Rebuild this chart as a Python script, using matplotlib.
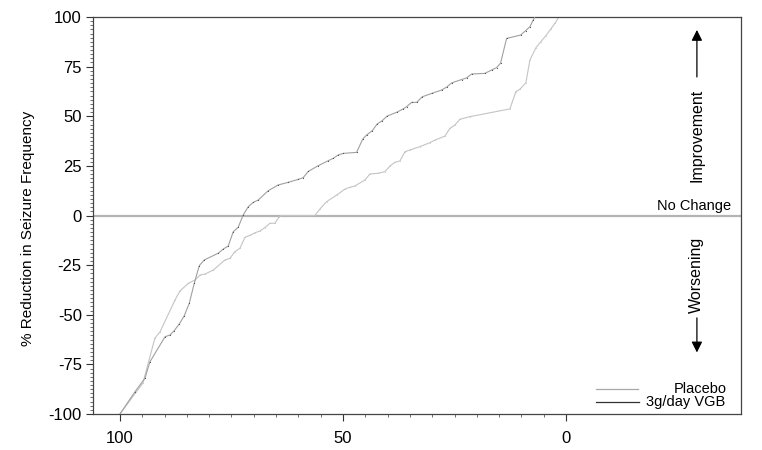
import matplotlib.pyplot as plt
from matplotlib.ticker import MultipleLocator, FixedLocator
from matplotlib.lines import Line2D

plt.rcParams['font.family'] = ['Liberation Sans', 'DejaVu Sans']
plt.rcParams['axes.unicode_minus'] = False

# cumulative % of patients (x) vs % reduction in seizure frequency (y)
placebo_x = [100, 94.85, 92.16, 91.04, 87.67, 86.55, 84.69, 83.19, 82.07, 80.95,
             79.09, 76.47, 75.35, 74.23, 73.11, 71.99, 70.87, 69.74, 68.62, 67.50,
             66.38, 65.26, 64.30, 63.76, 56.30, 55.18, 53.68, 51.43, 49.57, 48.45,
             47.33, 45.09, 43.97, 42.11, 40.61, 39.49, 38.37, 37.25, 36.13, 35.01,
             32.77, 30.52, 29.40, 27.16, 26.04, 24.92, 23.80, 21.56, 12.60, 11.25,
             10.35, 9.01, 8.11, 6.77, 5.65, 4.53, 3.48, 2.51, 1.61]
placebo_y = [-100, -84.4, -61.7, -58.7, -42.6, -38.0, -34.2, -32.5, -30.0, -29.5,
             -27.5, -22.4, -21.6, -18.2, -16.5, -11.0, -10.0, -8.7, -7.8, -6.1,
             -3.9, -3.9, -0.6, 0.0, 0.0, 3.3, 7.0, 10.3, 13.3, 14.2,
             14.9, 17.9, 20.9, 21.3, 22.1, 24.9, 26.8, 27.5, 32.1, 33.0,
             34.7, 36.7, 38.0, 40.0, 43.9, 45.6, 48.5, 49.8, 53.7, 62.4,
             63.6, 66.9, 78.3, 84.5, 87.6, 90.6, 93.8, 96.8, 100]

vgb_x = [100, 96.64, 94.40, 93.28, 89.91, 88.79, 87.90, 86.71, 85.59, 84.47,
         83.35, 82.23, 81.11, 77.97, 76.85, 75.73, 74.61, 73.49, 72.37, 71.25,
         70.13, 69.00, 66.76, 64.52, 62.28, 60.04, 58.92, 57.80, 55.56, 53.32,
         52.20, 51.08, 49.96, 46.95, 45.61, 44.71, 43.46, 42.34, 41.21, 40.09,
         37.99, 36.51, 35.75, 34.62, 33.50, 32.25, 30.01, 27.90, 26.78, 25.66,
         23.42, 22.30, 21.18, 18.20, 16.70, 15.58, 14.68, 13.34, 10.20, 9.08,
         8.11, 7.37, 6.99]
vgb_y = [-100, -88.8, -82.0, -73.7, -61.1, -60.2, -58.2, -54.7, -50.5, -44.3,
         -34.2, -25.3, -22.4, -19.0, -16.9, -15.4, -8.2, -5.9, 0.3, 4.4,
         6.6, 7.8, 12.5, 15.4, 16.7, 18.2, 19.1, 22.2, 25.1, 27.6,
         28.8, 30.5, 31.3, 31.8, 38.4, 40.6, 42.7, 46.1, 47.8, 50.1,
         52.0, 53.7, 54.8, 57.0, 57.0, 59.8, 61.6, 63.2, 64.7, 66.8,
         68.5, 69.3, 71.3, 71.6, 73.3, 74.5, 76.8, 89.2, 90.9, 93.1,
         95.1, 98.5, 100]

fig = plt.figure(figsize=(7.62, 4.5), dpi=100)
ax = fig.add_axes([0.122, 0.08, 0.8504, 0.8822])

ax.axhline(0, color='#b4b4b4', lw=1.6, zorder=1)

ax.plot(placebo_x, placebo_y, color='#c4c4c4', lw=0.8, marker='.', ms=1.2,
        mfc='#b0b0b0', mec='none', zorder=2)
ax.plot(vgb_x, vgb_y, color='#a0a0a0', lw=0.8, marker='.', ms=1.7,
        mfc='#505050', mec='none', zorder=3)

ax.set_xlim(106.05, -39.2)
ax.set_ylim(-100, 100)

ax.xaxis.set_major_locator(FixedLocator([100, 50, 0]))
ax.xaxis.set_minor_locator(FixedLocator(list(range(0, 101, 5))))
ax.yaxis.set_major_locator(MultipleLocator(25))
ax.yaxis.set_minor_locator(MultipleLocator(25 / 12))

ax.tick_params(axis='both', which='major', labelsize=12, length=5, width=0.8,
               color='#333333', direction='out')
ax.tick_params(axis='both', which='minor', length=2.5, width=0.6, color='#555555')
ax.tick_params(axis='x', pad=7)
ax.tick_params(axis='y', pad=3)

for side in ['left', 'bottom', 'top', 'right']:
    ax.spines[side].set_color('#444444')
    ax.spines[side].set_linewidth(0.9)

ax.set_ylabel('% Reduction in Seizure Frequency', fontsize=11)
ax.yaxis.set_label_coords(-0.09, 0.467)

# annotations on the right
ax.text(0.985, 1.5, 'No Change', transform=ax.get_yaxis_transform(),
        ha='right', va='bottom', fontsize=10.5)
ax.text(0.932, 40.3, 'Improvement', transform=ax.get_yaxis_transform(),
        rotation=90, ha='center', va='center', fontsize=11.5)
ax.text(0.932, -30.0, 'Worsening', transform=ax.get_yaxis_transform(),
        rotation=90, ha='center', va='center', fontsize=11.5)
ax.annotate('', xy=(0.932, 93.5), xytext=(0.932, 69.8),
            xycoords=ax.get_yaxis_transform(),
            arrowprops=dict(arrowstyle='-|>', color='black', lw=0.9,
                            mutation_scale=16, shrinkA=0, shrinkB=0))
ax.annotate('', xy=(0.932, -69.0), xytext=(0.932, -51.6),
            xycoords=ax.get_yaxis_transform(),
            arrowprops=dict(arrowstyle='-|>', color='black', lw=0.9,
                            mutation_scale=16, shrinkA=0, shrinkB=0))

# legend drawn by hand (right aligned labels)
ax.add_line(Line2D([0.776, 0.841], [0.063, 0.063], transform=ax.transAxes,
                   color='#a8a8a8', lw=0.9))
ax.add_line(Line2D([0.776, 0.843], [0.030, 0.030], transform=ax.transAxes,
                   color='#333333', lw=0.9))
ax.text(0.978, 0.063, 'Placebo', transform=ax.transAxes, ha='right',
        va='center', fontsize=10.5)
ax.text(0.975, 0.031, '3g/day VGB', transform=ax.transAxes, ha='right',
        va='center', fontsize=10.5)

fig.savefig('out.png', dpi=100)
